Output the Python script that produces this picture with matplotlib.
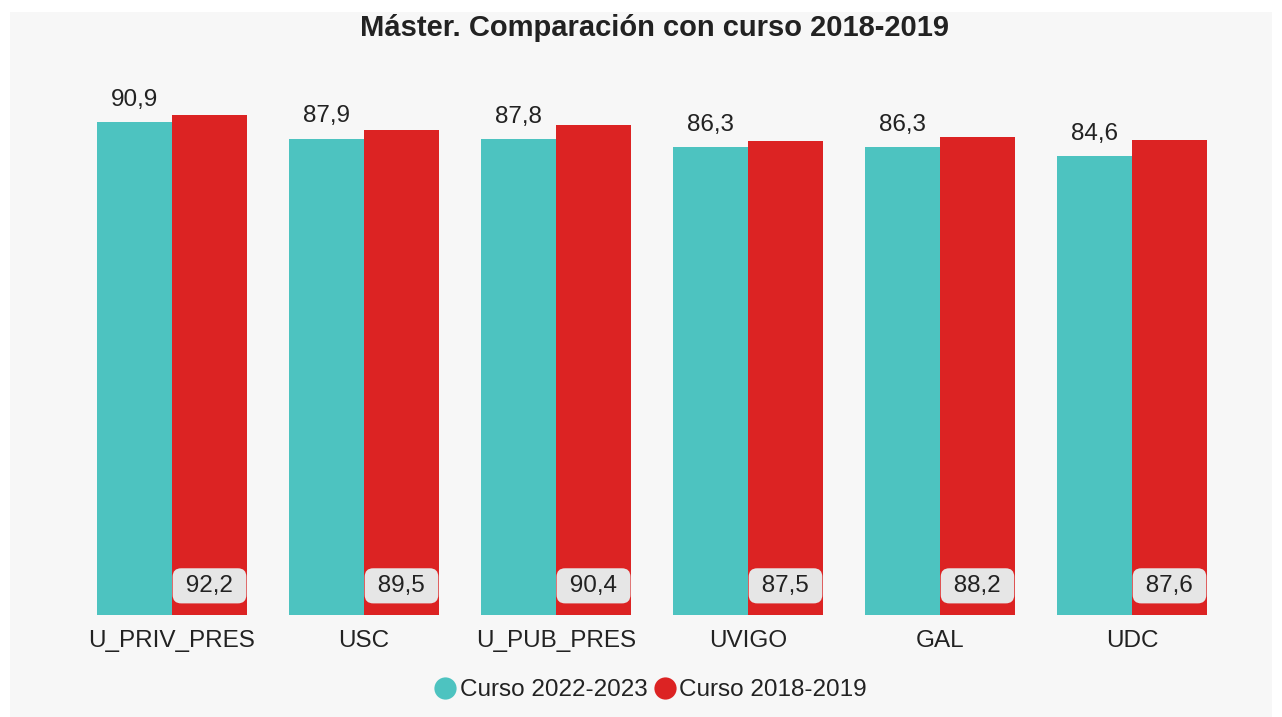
import numpy as np
import matplotlib.pyplot as plt
from matplotlib.lines import Line2D
from matplotlib.patches import Rectangle

plt.rcParams['font.family'] = ['Liberation Sans', 'DejaVu Sans']

# Datos
categorias = ["U_PRIV_PRES", "USC", "U_PUB_PRES", "UVIGO", "GAL", "UDC"]
curso_2022 = [90.9, 87.9, 87.8, 86.3, 86.3, 84.6]
curso_2018 = [92.2, 89.5, 90.4, 87.5, 88.2, 87.6]
series = ["Curso 2022-2023", "Curso 2018-2019"]

teal = "#4dc3c0"
rojo = "#dc2323"
fondo = "#f7f7f7"
texto = "#222222"
fs = 17.5

fig = plt.figure(figsize=(12.82, 7.17), dpi=100, facecolor="white")
# panel gris de fondo
fig.patches.append(Rectangle((10 / 1282, 0), 1262 / 1282, 705 / 717,
                             transform=fig.transFigure, facecolor=fondo,
                             edgecolor="none", zorder=-10))

ax = fig.add_axes([76 / 1282, 102 / 717, 1152 / 1282, 542 / 717])
ax.set_facecolor("none")

x = np.arange(len(categorias))
w = 75 / 192
ax.bar(x - w / 2, curso_2022, width=w, color=teal, zorder=2)
ax.bar(x + w / 2, curso_2018, width=w, color=rojo, zorder=2)

for xi, v in zip(x, curso_2022):
    ax.annotate(f"{v:.1f}".replace(".", ","), (xi - w / 2, v), xytext=(0, 8),
                textcoords="offset points", ha="center", va="bottom",
                fontsize=fs, color=texto)

for xi, v in zip(x, curso_2018):
    etiqueta = " " + f"{v:.1f}".replace(".", ",") + " "
    ax.annotate(etiqueta, (xi + w / 2, 0), xytext=(0, 21),
                textcoords="offset points", ha="center", va="center",
                fontsize=fs, color=texto, zorder=3,
                bbox=dict(boxstyle="round,pad=0.27,rounding_size=0.35",
                          facecolor="#e6e6e6", edgecolor="none"))

ax.set_xlim(-0.5, len(categorias) - 0.5)
ax.set_ylim(0, 100)
ax.set_xticks(x)
ax.set_xticklabels(categorias, fontsize=fs, color=texto)
ax.tick_params(axis="x", length=0, pad=11)
ax.set_yticks([])
for s in ax.spines.values():
    s.set_visible(False)

fig.text(654 / 1282, 1 - 28 / 717, "Máster. Comparación con curso 2018-2019",
         ha="center", va="center", fontsize=21, fontweight="bold", color=texto)

handles = [Line2D([0], [0], marker="o", color="none", markerfacecolor=c,
                  markeredgecolor="none", markersize=16, label=l)
           for c, l in zip([teal, rojo], series)]
fig.legend(handles=handles, loc="center", bbox_to_anchor=(650 / 1282, 1 - 690 / 717),
           ncol=2, frameon=False, fontsize=fs, handletextpad=0.1,
           columnspacing=0.2, handlelength=1.0, labelcolor=texto)

fig.savefig("out.png", dpi=100, facecolor="white")
